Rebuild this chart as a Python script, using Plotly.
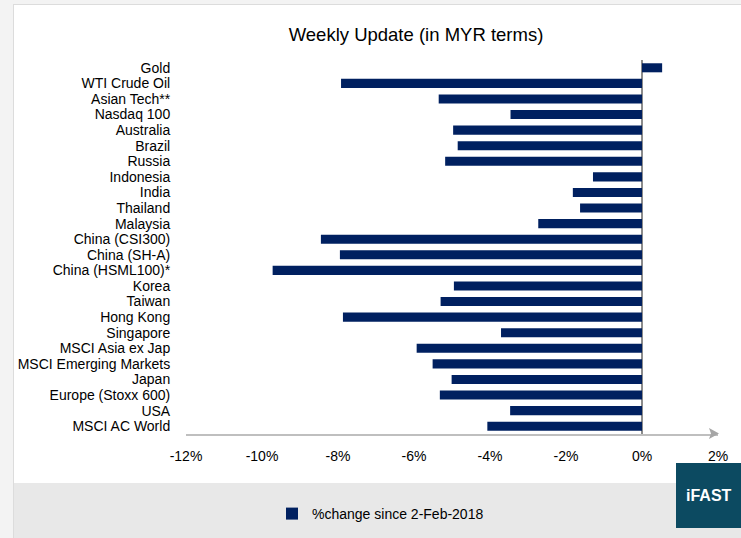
import plotly.graph_objects as go

categories = ["Gold", "WTI Crude Oil", "Asian Tech**", "Nasdaq 100", "Australia", "Brazil",
              "Russia", "Indonesia", "India", "Thailand", "Malaysia", "China (CSI300)",
              "China (SH-A)", "China (HSML100)*", "Korea", "Taiwan", "Hong Kong", "Singapore",
              "MSCI Asia ex Jap", "MSCI Emerging Markets", "Japan", "Europe (Stoxx 600)",
              "USA", "MSCI AC World"]
pct_change = [0.53, -7.92, -5.35, -3.46, -4.97, -4.85, -5.18, -1.29, -1.82, -1.63, -2.73,
              -8.45, -7.95, -9.72, -4.95, -5.30, -7.87, -3.71, -5.93, -5.51, -5.01, -5.32,
              -3.47, -4.07]
x_ticks = [-12, -10, -8, -6, -4, -2, 0, 2]
x_tick_labels = ["-12%", "-10%", "-8%", "-6%", "-4%", "-2%", "0%", "2%"]
series_name = "%change since 2-Feb-2018"
title_text = "Weekly Update (in MYR terms)"

FONT = "Liberation Sans Narrow, Arial Narrow, Liberation Sans, Arial, sans-serif"
W, H = 741, 538
L, R, T, B = 186, 718, 60, 434


def px(xp):
    return (xp - L) / (R - L)


def py(yp):
    return (B - yp) / (B - T)


fig = go.Figure(go.Bar(
    y=categories, x=pct_change, orientation="h", name=series_name,
    marker=dict(color="#002060", line=dict(width=0)), width=0.58,
    showlegend=True,
))

shapes = [
    dict(type="rect", xref="paper", yref="paper", x0=px(0), x1=px(13), y0=py(538), y1=py(0),
         fillcolor="#f3f3f3", line=dict(width=0), layer="below"),
    dict(type="line", xref="paper", yref="paper", x0=px(13.5), x1=px(13.5), y0=py(538), y1=py(4),
         line=dict(color="#dcdcdc", width=1), layer="below"),
    dict(type="rect", xref="paper", yref="paper", x0=px(0), x1=px(741), y0=py(4), y1=py(0),
         fillcolor="#f3f3f3", line=dict(width=0), layer="below"),
    dict(type="line", xref="paper", yref="paper", x0=px(13.5), x1=px(741), y0=py(4.5), y1=py(4.5),
         line=dict(color="#dcdcdc", width=1), layer="below"),
    dict(type="rect", xref="paper", yref="paper", x0=px(14), x1=px(741), y0=py(538), y1=py(483),
         fillcolor="#e8e8e8", line=dict(width=0), layer="below"),
    dict(type="rect", xref="paper", yref="paper", x0=px(676), x1=px(741), y0=py(528), y1=py(463),
         fillcolor="#0c4a61", line=dict(width=0)),
    dict(type="path", xref="paper", yref="paper",
         path=f"M {px(709)} {py(428)} L {px(719)} {py(433.5)} L {px(709)} {py(439)} L {px(711)} {py(433.5)} Z",
         fillcolor="#a6a6a6", line=dict(width=0)),
]

annotations = [
    dict(text="<b>iFAST</b>", xref="paper", yref="paper", x=px(709), y=py(495),
         showarrow=False, font=dict(family="Liberation Sans, Arial, sans-serif", size=16, color="white"),
         xanchor="center", yanchor="middle"),
]

fig.update_layout(
    width=W, height=H,
    margin=dict(l=L, r=W - R, t=T, b=H - B, pad=0, autoexpand=False),
    paper_bgcolor="white", plot_bgcolor="white",
    font=dict(family=FONT, size=14, color="#000000"),
    title=dict(text=title_text, x=416 / W, xanchor="center", y=1 - 35 / H, yanchor="middle",
               font=dict(family=FONT, size=18.5, color="#000000")),
    xaxis=dict(range=[-12, 2], tickvals=x_ticks, ticktext=x_tick_labels, showgrid=False,
               zeroline=True, zerolinecolor="#8c8c8c", zerolinewidth=1.5,
               showline=True, linecolor="#bfbfbf", linewidth=1.5, automargin=False,
               ticks="outside", ticklen=8, tickcolor="rgba(0,0,0,0)",
               tickfont=dict(family=FONT, size=14), fixedrange=True),
    yaxis=dict(categoryorder="array", categoryarray=categories, autorange="reversed",
               tickmode="array", tickvals=categories, ticktext=categories,
               showgrid=False, zeroline=False, showline=False, automargin=False,
               ticks="outside", ticklen=12, tickcolor="rgba(0,0,0,0)",
               tickfont=dict(family=FONT, size=14), fixedrange=True),
    legend=dict(orientation="h", x=px(272), y=py(514), xanchor="left", yanchor="middle",
                bgcolor="rgba(0,0,0,0)", font=dict(family=FONT, size=14),
                itemwidth=30),
    shapes=shapes,
    annotations=annotations,
    bargap=0.42,
)

fig.write_html("out.html", config={"displayModeBar": False},
               post_script="document.body.style.margin='0';document.body.style.overflow='hidden';")
